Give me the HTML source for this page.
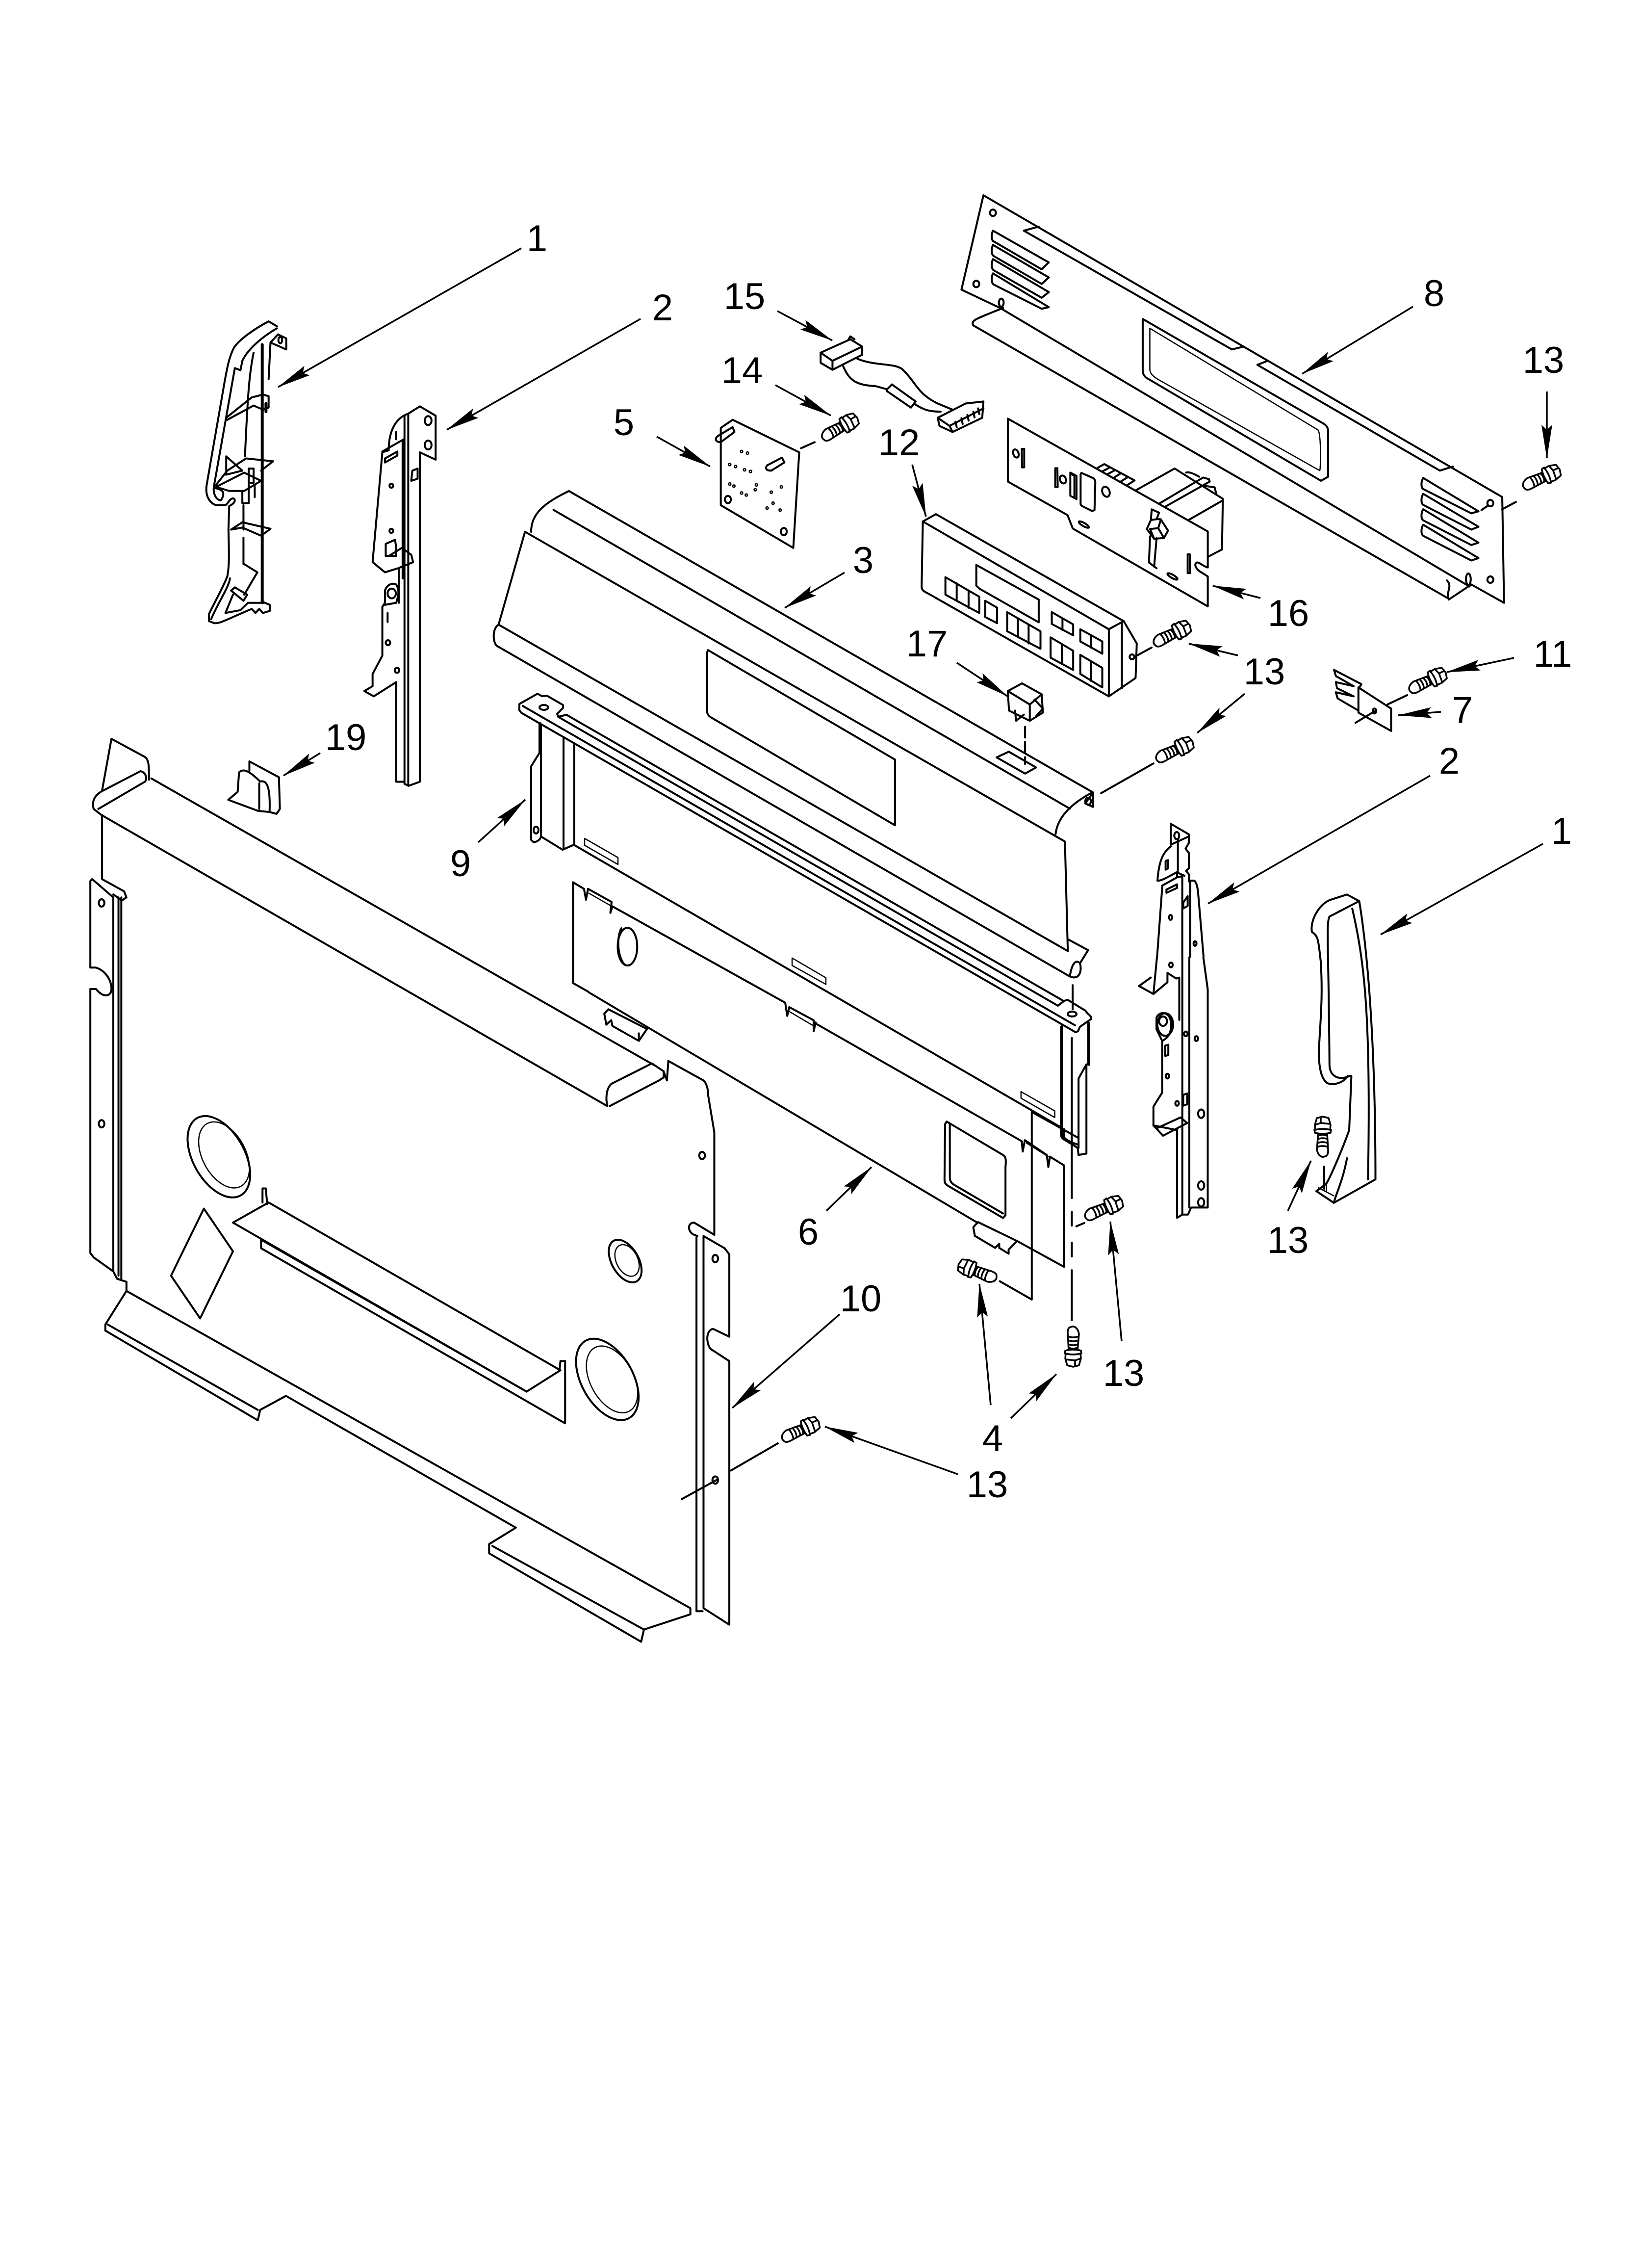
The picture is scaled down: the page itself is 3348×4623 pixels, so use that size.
<!DOCTYPE html>
<html><head><meta charset="utf-8"><style>
html,body{margin:0;padding:0;background:#fff}
svg{display:block}
path,line,ellipse,polyline{vector-effect:non-scaling-stroke}
.d{fill:none;stroke:#000;stroke-width:4;stroke-linejoin:round;stroke-linecap:round}
.t{stroke-width:2.5}
.k{stroke-width:6}
.w{fill:#fff}
text{font-family:"Liberation Sans",sans-serif;font-size:76px;text-anchor:middle;fill:#000}
.a line{stroke:#000;stroke-width:3.5;marker-end:url(#ah)}
</style></head><body>
<svg width="3348" height="4623" viewBox="0 0 3348 4623" xmlns="http://www.w3.org/2000/svg">
<defs>
<marker id="ah" markerUnits="userSpaceOnUse" viewBox="-75 -14 77 28" refX="0" refY="0" markerWidth="77" markerHeight="28" orient="auto"><path d="M1,0 L-68,-11 L-58,0 L-68,11Z" fill="#000"/></marker>
<g id="s" fill="#fff" stroke="#000" stroke-width="3.5" stroke-linejoin="round">
<path d="M2,5 C-2,-3 5,-10 16,-12 L50,-9 L50,9 L14,11 C6,11 3,9 2,5Z"/>
<path d="M21,-12 Q25,0 21,11M29,-11 Q33,0 29,10M37,-10 Q41,0 37,10M44,-9 Q48,0 44,9" fill="none"/>
<path d="M50,-16 Q46,0 50,16 L56,17 Q60,0 56,-17Z"/>
<path d="M56,-15 L66,-16 L80,-12 L83,0 L80,12 L66,16 L56,15 Q60,0 56,-15Z"/>
<path d="M66,-16 L70,-4 L82,-4 M70,-4 L68,15" fill="none"/>
</g>
</defs>
<rect width="3348" height="4623" fill="#fff"/>

<!-- Z3: panel 10, part 19 -->
<g class="d" transform="translate(100,1450) scale(.9566,1.2436)">
<path d="M113,130 L133,45 L205,75 C213,80 213,90 213,112"/>
<path d="M112,170 L95,160 C90,145 100,137 110,132 L195,98 C205,100 210,108 205,115 L105,160"/>
<path d="M218,110 L1290,580 M112,170 L1190,647 C1185,630 1190,615 1200,610 L1285,577 L1310,590 L1310,600 L1300,605 L1195,647"/>
<path d="M113,170 L113,275 L160,295 L165,305 L155,310 L137,300"/>
<path d="M88,278 L88,420 L100,420 C120,425 133,440 133,455 C133,468 115,470 100,455 L88,455 L88,888 L95,895 L137,918 L137,305 L92,275Z"/>
<path d="M148,305 L148,925 M154,305 L154,930 M137,918 L145,930 L165,935 L165,950 L1367,1470 L1367,1480"/>
<path d="M165,950 L120,1005 L120,1015 L445,1162 L450,1145 L505,1122 L995,1338 L938,1365 L938,1380 L1262,1525 L1268,1505 L1367,1480"/>
<path d="M125,1005 L445,1145 M945,1368 L1268,1505"/>
<path d="M1320,573 L1395,605 C1402,610 1405,620 1405,630 L1418,690 L1418,858 L1375,838 C1362,838 1360,850 1372,857 L1382,860"/>
<path d="M1320,573 L1317,605 L1310,590"/>
<path d="M1395,860 L1440,880 L1450,890 L1450,1025 L1415,1012 C1400,1015 1400,1035 1410,1045 L1450,1065 L1450,1497 L1395,1470Z"/>
<path d="M1380,862 L1380,1475 L1393,1475"/>
<ellipse cx="112" cy="314" rx="6" ry="6"/><ellipse cx="112" cy="676" rx="6" ry="6"/><ellipse cx="1392" cy="728" rx="6" ry="6"/><ellipse cx="1420" cy="897" rx="6" ry="6"/><ellipse cx="1420" cy="1260" rx="6" ry="6"/>
<ellipse cx="362" cy="730" rx="80" ry="50" transform="rotate(45 362 730)"/>
<ellipse cx="373" cy="727" rx="64" ry="42" transform="rotate(45 373 727)" class="d t"/>
<ellipse cx="1228" cy="901" rx="42" ry="26" transform="rotate(45 1228 901)"/>
<ellipse cx="1232" cy="900" rx="30" ry="21" transform="rotate(45 1232 900)" class="d t"/>
<ellipse cx="1190" cy="1095" rx="80" ry="50" transform="rotate(45 1190 1095)"/>
<ellipse cx="1200" cy="1095" rx="65" ry="42" transform="rotate(45 1200 1095)" class="d t"/>
<path d="M330,815 L392,885 L322,995 L260,925Z"/>
<path d="M392,838 L468,805 L1090,1080 L1018,1115Z"/>
<path d="M455,805 L455,782 L462,782 L465,808"/>
<path d="M452,866 L1018,1115 M452,866 L452,880 L1100,1167 L1100,1065 L1090,1065 L1088,1080"/>
<path d="M427,82 L490,108 L492,160 L485,168 L470,165 M427,82 L427,97 M405,100 C415,92 430,100 450,115 C465,112 472,125 470,165 L445,163 L382,145 L402,132 Z M448,118 L448,160"/>
</g>

<!-- Z1: part 1 & part 2 left -->
<g class="d" transform="translate(100,350) scale(.7653,.829)">
<path class="d" d="M607,380 L585,368 C550,385 510,410 493,432 C480,455 475,480 468,515 L420,770 C415,800 430,815 445,820 L470,820 C478,815 480,805 490,803 C498,805 497,815 480,822 L478,880 C480,950 480,970 475,995 C465,1020 440,1060 426,1088 L426,1105 L440,1110 C455,1112 475,1100 540,1075 L550,1085 L560,1075 L570,1085 L588,1080 L588,1065 L570,1058"/>
<path d="M607,385 C570,405 530,435 515,465 L510,488 L495,483 C490,510 480,560 440,770 C435,790 445,808 458,808 C470,790 465,782 442,778 M432,1100 C450,1060 480,1020 482,1000"/>
<path class="k" d="M568,425 L568,1060 M578,570 L578,590"/>
<path d="M545,445 C535,490 530,530 522,700 M590,420 L585,510 M590,420 L610,400 L632,410 L632,437 L590,420 M518,820 L518,880 M518,900 L518,965"/>
<ellipse cx="616" cy="414" rx="5" ry="8"/>
<path d="M472,605 L540,555 L570,548 L585,552 L585,580 L570,585 L545,575 L475,610"/>
<path d="M472,700 L515,735 L472,745 Z M445,770 L475,735 L525,705 L597,712 L565,735 M445,775 L520,740 L565,760 L520,785 L480,785 L445,775 M532,730 L532,765 L545,765 L545,730Z M515,785 L515,815 L532,815 L532,770 M548,770 L548,800"/>
<path d="M485,880 L515,862 L590,878 L565,895 L515,875 L485,880"/>
<path d="M520,965 L555,985 L520,1040 M485,1030 L495,1022 L528,1040 L518,1055 L485,1030 M470,1085 L490,1040 M470,1085 L510,1078 L530,1060 L572,1060"/>
<path d="M957,595 L988,577 L1030,600 L1030,708 L988,690 L988,1500 L958,1510 L947,1505 L947,1500 L925,1500 L925,1255 L865,1290 L840,1277 L862,1265 L862,1235 L888,1190 L888,1070 L895,1060 L895,1030 C900,1015 915,1010 925,1015 C935,1030 930,1045 925,1060 L895,1065"/>
<path d="M957,595 L957,1510 M947,600 L947,1500 M942,660 L942,1000 M932,975 L932,1060 M957,595 C925,605 905,635 905,685 L888,690 L862,960 L895,985 L930,975 L970,960 L965,942 L940,925 L905,945"/>
<path d="M888,688 L945,658 M925,925 L925,945 L897,945 L897,915 L922,905Z M968,735 L982,730 L982,755 L965,760Z"/>
<path d="M895,705 L928,688 L928,698 L895,715Z M925,640 L925,658 M902,1085 L902,1107"/>
<ellipse cx="1010" cy="612" rx="9" ry="11"/><ellipse cx="1010" cy="672" rx="9" ry="11"/>
<ellipse cx="912" cy="772" rx="5" ry="5"/><ellipse cx="912" cy="883" rx="5" ry="5"/>
<ellipse cx="903" cy="1158" rx="6" ry="6"/><ellipse cx="927" cy="1226" rx="6" ry="6"/>
<ellipse cx="913" cy="1037" rx="11" ry="12"/>
</g>

<!-- Z4: part 3, part 6 top -->
<g class="d" transform="translate(1000,950) scale(.829,.893)">
<path d="M100,150 C100,110 130,85 193,57 L1482,745 L1482,778 L1463,770 L1480,748"/>
<path d="M155,100 L1425,782"/>
<path d="M85,150 L1413,857 L1420,1107 M85,150 L20,362 C5,370 5,400 15,410 L1425,1165 C1450,1175 1455,1150 1450,1135 C1440,1125 1430,1135 1425,1165"/>
<path d="M20,362 L1420,1107 M1420,1080 L1470,1105 L1450,1135"/>
<path d="M1390,840 C1395,800 1430,770 1480,745"/>
<path d="M535,420 L995,670 L995,820 L545,575 C535,570 533,565 533,560 L533,425Z"/>
<path d="M1245,665 L1275,652 L1342,688 L1315,702Z"/>
<ellipse cx="1470" cy="765" rx="7" ry="8"/>
<path d="M1315,595 L1315,680" stroke-dasharray="22 9"/>
<path d="M742,1123 L825,1168 L825,1183 L742,1140Z M1305,1428 L1388,1472 L1388,1487 L1305,1443Z" class="d t"/>
<path d="M1432,1185 L1432,1240"/>
<path d="M241,1200 L203,1180 L203,950 L230,965 L235,990 L240,965 L298,995 L295,1020 L300,1005 L725,1225 L730,1255 L735,1235 L795,1265 L795,1290 L800,1270"/>
<path d="M242,975 L295,1003 M735,1245 L795,1278" class="d t"/>
<ellipse cx="337" cy="1097" rx="24" ry="43"/>
<path d="M322,1055 C310,1075 312,1120 330,1138"/>
<path d="M280,1250 L290,1240 L385,1285 L365,1312 L300,1278 L297,1265 L285,1275Z M365,1295 L365,1312"/>
</g>

<!-- part 9 in real pixels -->
<g class="d">
<path d="M1155,1457 L2168,2040"/>
<path d="M1138,1461 L1136,1455 L1148,1443 L1148,1437 L1115,1418 L1105,1419 L1096,1414 L1059,1435 L1059,1448 L1063,1453 L2193,2104 L2198,2102 L2202,2093 L2225,2077 L2225,2073 L2217,2065 L2213,2060 L2177,2038 L2170,2040 L2157,2050 L1138,1461 L1155,1457"/>
<path d="M1066,1439 L2192,2090"/>
<ellipse cx="1109" cy="1442" rx="9" ry="5"/><ellipse cx="2186" cy="2067" rx="9" ry="5"/>
<path d="M1101,1475 L1101,1533" class="d k"/>
<path d="M1101,1533 L1083,1562 L1083,1712 L1088,1717 C1098,1715 1103,1710 1103,1703 L1103,1480 M1103,1705 L1147,1732 L1170,1722 L2160,2296"/>
<path d="M1149,1502 L1149,1728 M1171,1517 L1171,1720"/>
<path d="M1192,1709 L1260,1748 L1260,1762 L1192,1723Z" class="d t"/>
<ellipse cx="1093" cy="1692" rx="5" ry="7"/>
</g>

<!-- Z6: part 6 lower -->
<g class="d" transform="translate(1200,2000) scale(.6378,.7015)">
<path d="M0,32 L1240,700 M1370,755 L1520,830 L1520,535 L1475,510 L1470,540 L1465,505 L1395,462 L1388,495 L1385,465 L730,125"/>
<path d="M1145,408 L1325,505 C1335,510 1335,520 1333,540 L1333,680 L1325,688 L1150,595 C1140,590 1138,585 1138,575 L1140,415Z"/>
<path d="M1155,415 L1155,570 C1155,585 1165,590 1175,595 L1325,675"/>
<path d="M1230,715 L1245,700 L1370,755 L1343,780 L1343,792 L1313,775 L1313,763 L1300,775 L1235,740Z"/>
<path d="M1417,380 L1417,925 L1315,872 M1417,380 L1565,455"/>
<path d="M1520,430 L1520,460 M1513,130 L1513,440 C1515,455 1530,465 1565,475"/>
<path d="M1545,165 L1545,630 M1545,670 L1545,710 M1545,760 L1545,800 M1545,840 L1545,985"/>
<path d="M455,1422 L605,1343 M298,1505 L412,1448"/>
<path d="M1400,470 L1470,510" class="d t"/>
</g>

<!-- Z5: part 9 right, part 2 right lower, part 1 right -->
<g class="d" transform="translate(1800,1500) scale(.8929,.9566)">
<path class="k" d="M470,612 L470,700"/>
<path d="M407,620 L407,850 C407,860 420,862 445,878 L447,893 L465,890 L465,700 L447,730 L447,878"/>
<path d="M442,1045 L460,1038 M1008,918 L1008,965"/>
<path d="M684,472 L684,1020 L672,1027 L672,840 L618,830 L618,790 L638,760 L638,650 L625,625 L625,600 C630,590 645,585 655,600 C662,615 660,640 638,650"/>
<path d="M732,472 L742,540 L742,1005 L704,1005 L697,1020 L684,1020 M700,472 L700,1005"/>
<path d="M626,472 L618,550 L585,533 L612,515 M618,550 L650,525 L650,505 L670,517 L677,515 L677,605"/>
<path d="M618,830 L640,852 L695,825 L680,813 L628,835"/>
<path d="M645,660 L652,658 L652,680 L645,682Z M686,765 L695,762 L695,785 L686,788Z"/>
<ellipse cx="658" cy="488" rx="4" ry="5"/><ellipse cx="716" cy="645" rx="4" ry="5"/><ellipse cx="692" cy="635" rx="4" ry="5"/><ellipse cx="650" cy="725" rx="4" ry="5"/><ellipse cx="672" cy="783" rx="4" ry="5"/><ellipse cx="727" cy="805" rx="7" ry="9"/><ellipse cx="727" cy="958" rx="7" ry="9"/><ellipse cx="727" cy="994" rx="7" ry="9"/>
<ellipse cx="645" cy="615" rx="18" ry="24"/><ellipse cx="640" cy="608" rx="9" ry="10"/>
<path d="M1060,338 L1088,352 C1100,420 1125,600 1125,945 L1030,995 L990,970 L1012,955 C1020,945 1050,880 1065,840 L1070,725 L1062,725 C1050,740 1030,745 1015,740 C1000,730 993,700 997,650 C1000,600 1005,550 1000,480 C995,440 995,425 980,418 C975,395 995,360 1020,350Z"/>
<path d="M1072,368 C1100,480 1115,600 1108,945 M1030,995 C1035,975 1050,950 1060,900 M1088,352 L1020,385 C1012,400 1018,440 1020,700 C1020,725 1040,735 1065,725"/>
<path d="M995,963 L1030,980 M1013,955 L1013,970" class="d t"/>
</g>

<!-- part 2 right top (real scale /3) -->
<g class="d" transform="translate(2300,1650) scale(.3333)">
<path d="M262,88 L372,152 L372,205 L352,240 L372,265 L372,360 L355,375 L375,400 L372,440 M262,88 L262,215 L372,165"/>
<ellipse cx="298" cy="160" rx="15" ry="22"/>
<path d="M305,180 L305,370 M262,225 C220,260 190,300 180,435 C200,440 250,410 305,380 M230,315 L245,310 L245,360 L230,368Z"/>
<path d="M300,415 L300,385 L345,405 M210,465 L300,415 L332,408 L332,900 M210,465 L178,900 M380,440 L380,900 M372,435 L405,435 C420,445 425,480 428,500 L462,900"/>
<path d="M235,490 L300,458 L300,480 L235,510Z M338,570 L365,530 L365,590 L338,605Z"/>
<ellipse cx="260" cy="660" rx="9" ry="15"/><ellipse cx="410" cy="820" rx="9" ry="14"/>
</g>

<!-- part 16 (real scale /3) -->
<g class="d" transform="translate(2000,830) scale(.3333)">
<path d="M945,510 L1185,375 L1480,560 L1475,870 L1380,920 M1270,690 L1480,570 M1090,590 L1360,430 L1395,440 L1400,455 L1125,610 M1255,400 C1270,395 1290,400 1335,425 M1360,480 L1430,490 L1440,530"/>
<path d="M715,370 L755,348 L940,448 L890,480 M745,392 L785,370 M775,410 L820,385 M815,430 L855,405 M855,455 L895,430"/>
<path class="d w" d="M165,70 L165,455 L530,660 L562,742 L1388,1218 L1388,1035 L1340,1005 C1320,990 1300,965 1320,950 C1335,945 1360,975 1388,980 L1388,760Z"/>
<ellipse cx="214" cy="283" rx="16" ry="26" transform="rotate(-20 214 283)"/>
<path d="M250,255 L265,255 L265,368 L252,368Z M455,373 L468,373 L470,488 L455,488Z"/>
<ellipse cx="502" cy="442" rx="18" ry="25" transform="rotate(-20 502 442)"/>
<path d="M547,400 L585,420 L585,562 L547,542Z M558,412 L572,420 L572,545"/>
<path d="M610,410 L615,402 L690,435 Q700,445 700,460 L695,630 L680,635 L620,605 Q610,600 610,590Z"/>
<ellipse cx="765" cy="517" rx="22" ry="32" transform="rotate(-20 765 517)"/>
<ellipse cx="630" cy="718" rx="35" ry="10" transform="rotate(30 630 718)"/>
<path d="M1265,900 L1278,900 L1280,1015 L1265,1015Z"/>
<ellipse cx="1172" cy="1035" rx="35" ry="10" transform="rotate(30 1172 1035)"/>
<path d="M1045,625 L1090,645 L1075,685 L1100,685 L1145,755 L1120,800 L1060,805 L1015,745 L1040,690Z M1035,745 L1085,740 L1120,800 M1085,740 L1100,690 M1035,745 L1060,805 M1040,690 L1075,685 M1035,790 L1028,950 L1075,985 M1075,800 L1060,975"/>
</g>

<!-- Z2: 5, 15, 8, 12, 17, 7 -->
<g class="d" transform="translate(1300,350) scale(1.2117,.829)">
<path d="M140,630 L160,610 L272,690 L262,925 L140,820Z"/>
<path d="M135,650 L160,628 L163,640 L140,665 C130,665 130,655 135,650Z M218,722 L243,703 L247,715 L225,735 C215,735 215,728 218,722Z"/>
<g class="t">
<ellipse cx="175" cy="688" rx="2" ry="3"/><ellipse cx="185" cy="692" rx="2" ry="3"/><ellipse cx="155" cy="720" rx="2" ry="3"/><ellipse cx="165" cy="725" rx="2" ry="3"/><ellipse cx="180" cy="733" rx="2" ry="3"/><ellipse cx="190" cy="737" rx="2" ry="3"/><ellipse cx="155" cy="768" rx="2" ry="3"/><ellipse cx="162" cy="773" rx="2" ry="3"/><ellipse cx="175" cy="790" rx="2" ry="3"/><ellipse cx="183" cy="795" rx="2" ry="3"/><ellipse cx="198" cy="782" rx="2" ry="3"/><ellipse cx="200" cy="770" rx="2" ry="3"/><ellipse cx="242" cy="775" rx="2" ry="3"/><ellipse cx="225" cy="788" rx="2" ry="3"/><ellipse cx="228" cy="815" rx="2" ry="3"/><ellipse cx="240" cy="832" rx="2" ry="3"/><ellipse cx="218" cy="827" rx="2" ry="3"/>
</g>
<ellipse cx="152" cy="806" rx="5" ry="9"/><ellipse cx="246" cy="885" rx="5" ry="9"/>
<path d="M275,680 L298,665"/>
<path d="M308,445 L358,412 L378,430 L378,450 L328,487 L308,470Z M308,445 L328,465 L328,487 M328,465 L378,430 M355,412 L358,405 L365,412"/>
<path d="M370,460 C400,478 430,470 445,485 C470,520 470,545 505,570 L530,585"/>
<path d="M345,475 C355,510 365,525 400,527 L420,535 M465,570 C480,585 490,590 510,590"/>
<path d="M420,535 L428,523 L468,565 L460,580 L420,540Z"/>
<path d="M505,605 L552,570 L582,565 L580,605 L530,640 L508,625Z M505,605 L525,625 L530,640 M525,625 L582,582 M535,615 L537,628 M545,606 L547,620 M555,598 L557,612 M565,590 L567,604 M573,582 L575,596"/>
<path d="M582,58 L1455,800 L1458,1060 L1403,1015 L1365,1052 C1360,1030 1372,1020 1362,1005"/>
<path d="M582,58 L545,290 L610,335 L1400,1020 M565,378 L1365,1050 M565,378 C560,365 570,362 615,335"/>
<path d="M650,145 L675,135 M650,145 L1000,437 L1020,430 M1043,475 L1060,465 M1043,475 L1350,735 L1372,725"/>
<path d="M598,145 C595,155 595,170 600,172 L680,240 L692,223Z M598,180 C595,190 595,205 600,208 L680,276 L692,260Z M598,215 C595,225 595,240 600,243 L680,310 L692,296Z M598,250 C595,260 595,275 600,278 L680,337 L692,333Z"/>
<path d="M1322,753 C1318,763 1318,778 1323,781 L1403,840 L1415,835Z M1322,792 C1318,802 1318,817 1323,820 L1403,880 L1415,873Z M1322,830 C1318,840 1318,855 1323,858 L1403,918 L1415,912Z M1322,868 C1318,878 1318,893 1323,896 L1403,956 L1415,950Z"/>
<path d="M850,362 L1155,620 C1160,625 1162,630 1162,640 L1162,750 L1150,760 L860,510 C852,505 850,495 850,490Z"/>
<path d="M862,385 L1145,635 C1150,645 1150,720 1148,735 L875,510 C865,500 862,495 862,485Z" class="d t"/>
<ellipse cx="598" cy="101" rx="5" ry="8"/><ellipse cx="570" cy="276" rx="5" ry="8"/><ellipse cx="1435" cy="815" rx="5" ry="8"/><ellipse cx="1435" cy="1003" rx="5" ry="8"/>
<ellipse cx="612" cy="322" rx="4" ry="10"/><ellipse cx="1398" cy="1002" rx="4" ry="14"/>
<path d="M1455,830 L1478,812 M1420,832 L1430,822"/>
<path d="M480,860 L502,842 L818,1105 L793,1125Z"/>
<path d="M480,860 L478,1020 C478,1030 482,1032 490,1038 L793,1290 L793,1125"/>
<path d="M818,1105 L840,1160 L838,1245 L793,1290 M815,1108 L815,1270"/>
<ellipse cx="832" cy="1193" rx="4" ry="6"/>
<path d="M570,967 L675,1052 L675,1108 L575,1025 L570,1018Z"/>
<path d="M518,997 L575,1045 L575,1085 L518,1040Z M537,1012 L537,1055 M557,1030 L557,1072"/>
<path d="M585,1055 L605,1072 L605,1110 L585,1095Z"/>
<path d="M622,1083 L678,1130 L678,1173 L622,1130Z M640,1098 L640,1145 M658,1115 L658,1160"/>
<path d="M697,1083 L733,1113 L733,1140 L697,1112Z M715,1098 L715,1127"/>
<path d="M745,1125 L782,1155 L782,1185 L745,1155Z M763,1140 L763,1170"/>
<path d="M695,1145 L733,1178 L733,1225 L695,1195Z M714,1162 L714,1210"/>
<path d="M745,1188 L782,1220 L782,1268 L745,1235Z M763,1205 L763,1252"/>
<path d="M840,1190 L865,1170"/>
<path d="M623,1277 L647,1258 L680,1285 L660,1310Z M623,1277 L625,1325 L660,1350 L682,1330 L680,1285 M660,1310 L660,1350 M635,1325 L637,1350 L650,1335 M668,1298 L682,1320 L670,1340"/>
<path d="M1213,1330 L1213,1268 L1268,1320 L1268,1375Z"/>
<path d="M1172,1225 L1218,1260 L1213,1272 M1172,1225 L1175,1240 L1205,1265 L1175,1255 L1177,1270 L1205,1290 L1175,1280 L1178,1295 L1213,1325"/>
<ellipse cx="1240" cy="1326" rx="3" ry="6"/>
<path d="M1262,1310 L1295,1287 M1208,1355 L1240,1327 M780,1528 L868,1455"/>
</g>

<!-- screws -->
<use href="#s" transform="translate(1676,893) rotate(-30)"/>
<use href="#s" transform="translate(3105,992) rotate(-25)"/>
<use href="#s" transform="translate(2352,1312) rotate(-27)"/>
<use href="#s" transform="translate(2357,1548) rotate(-26)"/>
<use href="#s" transform="translate(2873,1407) rotate(-26)"/>
<use href="#s" transform="translate(2212,2481) rotate(-24)"/>
<use href="#s" transform="translate(2032,2607) rotate(201)"/>
<use href="#s" transform="translate(2188,2703) rotate(90)"/>
<use href="#s" transform="translate(1594,2933) rotate(-25)"/>
<use href="#s" transform="translate(2697,2359) rotate(-90)"/>

<!-- arrows -->
<g class="a">
<line x1="1063" y1="506" x2="567" y2="789"/>
<line x1="1306" y1="650" x2="911" y2="876"/>
<line x1="653" y1="1535" x2="578" y2="1581"/>
<line x1="975" y1="1717" x2="1071" y2="1630"/>
<line x1="1339" y1="890" x2="1448" y2="951"/>
<line x1="1585" y1="634" x2="1697" y2="694"/>
<line x1="1581" y1="785" x2="1694" y2="847"/>
<line x1="1860" y1="947" x2="1888" y2="1053"/>
<line x1="2881" y1="625" x2="2655" y2="762"/>
<line x1="3154" y1="798" x2="3154" y2="934"/>
<line x1="1722" y1="1167" x2="1600" y2="1239"/>
<line x1="2570" y1="1219" x2="2473" y2="1194"/>
<line x1="1951" y1="1351" x2="2054" y2="1419"/>
<line x1="2524" y1="1336" x2="2424" y2="1312"/>
<line x1="2538" y1="1414" x2="2441" y2="1494"/>
<line x1="3087" y1="1341" x2="2950" y2="1370"/>
<line x1="2938" y1="1451" x2="2851" y2="1458"/>
<line x1="2916" y1="1581" x2="2463" y2="1842"/>
<line x1="3146" y1="1720" x2="2815" y2="1905"/>
<line x1="2626" y1="2468" x2="2673" y2="2366"/>
<line x1="1685" y1="2468" x2="1777" y2="2379"/>
<line x1="1712" y1="2679" x2="1493" y2="2870"/>
<line x1="2020" y1="2864" x2="1997" y2="2617"/>
<line x1="2061" y1="2891" x2="2154" y2="2801"/>
<line x1="1953" y1="3005" x2="1682" y2="2908"/>
<line x1="2287" y1="2734" x2="2264" y2="2490"/>
</g>

<!-- labels -->
<text x="1095" y="512">1</text>
<text x="1351" y="653">2</text>
<text x="1272" y="887">5</text>
<text x="1518" y="630">15</text>
<text x="1513" y="781">14</text>
<text x="1833" y="928">12</text>
<text x="2924" y="624">8</text>
<text x="3147" y="760">13</text>
<text x="1760" y="1168">3</text>
<text x="2627" y="1276">16</text>
<text x="1890" y="1338">17</text>
<text x="2578" y="1395">13</text>
<text x="3166" y="1359">11</text>
<text x="2982" y="1473">7</text>
<text x="2955" y="1577">2</text>
<text x="3184" y="1720">1</text>
<text x="705" y="1529">19</text>
<text x="939" y="1786">9</text>
<text x="1648" y="2537">6</text>
<text x="1755" y="2673">10</text>
<text x="2024" y="2958">4</text>
<text x="2291" y="2825">13</text>
<text x="2626" y="2554">13</text>
<text x="2013" y="3052">13</text>
</svg>
</body></html>
